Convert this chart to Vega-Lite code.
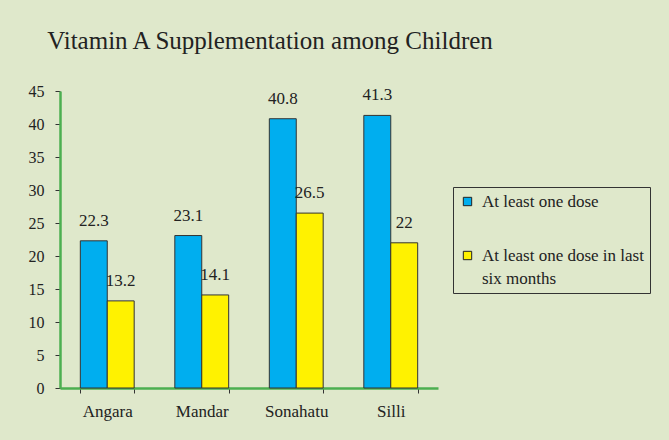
{
  "$schema": "https://vega.github.io/schema/vega-lite/v6.json",
  "width": 378,
  "height": 297,
  "autosize": {"type": "none"},
  "padding": {"left": 60, "top": 91, "right": 231, "bottom": 52},
  "background": "#dfe8cb",
  "config": {"view": {"stroke": null}, "style": {"guide-label": {"lineHeight": 23}}},
  "title": {
    "text": "Vitamin A Supplementation among Children",
    "font": "Liberation Serif",
    "fontSize": 25,
    "fontWeight": "normal",
    "color": "#222222",
    "anchor": "middle",
    "frame": "group",
    "dx": 21,
    "offset": 29
  },
  "data": {
    "values": [
      {"district": "Angara", "series": "At least one dose", "value": 22.3},
      {"district": "Angara", "series": "At least one dose in last six months", "value": 13.2},
      {"district": "Mandar", "series": "At least one dose", "value": 23.1},
      {"district": "Mandar", "series": "At least one dose in last six months", "value": 14.1},
      {"district": "Sonahatu", "series": "At least one dose", "value": 40.8},
      {"district": "Sonahatu", "series": "At least one dose in last six months", "value": 26.5},
      {"district": "Silli", "series": "At least one dose", "value": 41.3},
      {"district": "Silli", "series": "At least one dose in last six months", "value": 22}
    ]
  },
  "encoding": {
    "x": {
      "field": "district",
      "type": "nominal",
      "sort": ["Angara", "Mandar", "Sonahatu", "Silli"],
      "scale": {"paddingInner": 0.43, "paddingOuter": 0.215},
      "axis": {
        "title": null,
        "labelAngle": 0,
        "labelFont": "Liberation Serif",
        "labelFontSize": 17,
        "labelColor": "#222222",
        "labelPadding": 10,
        "tickBand": "extent",
        "tickSize": 5,
        "tickColor": "#333333",
        "domainColor": "#4caf50",
        "domainWidth": 2.5
      }
    },
    "xOffset": {"field": "series", "type": "nominal"},
    "y": {
      "field": "value",
      "type": "quantitative",
      "scale": {"domain": [0, 45], "nice": false},
      "axis": {
        "title": null,
        "values": [0, 5, 10, 15, 20, 25, 30, 35, 40, 45],
        "grid": false,
        "labelFont": "Liberation Serif",
        "labelFontSize": 16,
        "labelColor": "#222222",
        "labelPadding": 11,
        "tickSize": 5,
        "tickColor": "#333333",
        "domainColor": "#4caf50",
        "domainWidth": 2.5
      }
    }
  },
  "layer": [
    {
      "mark": {"type": "bar", "stroke": "#333333", "strokeWidth": 1},
      "encoding": {
        "color": {
          "field": "series",
          "type": "nominal",
          "scale": {"range": ["#00aeef", "#fff200"]},
          "legend": {
            "title": null,
            "orient": "none",
            "legendX": 393,
            "legendY": 96,
            "strokeColor": "#333333",
            "padding": 6,
            "symbolType": "square",
            "symbolSize": 70,
            "symbolStrokeColor": "#222222",
            "symbolStrokeWidth": 1,
            "labelFont": "Liberation Serif",
            "labelFontSize": 17,
            "labelColor": "#222222",
            "labelLimit": 300,
            "labelOffset": 6,
            "rowPadding": 36,
            "labelExpr": "datum.label == 'At least one dose in last six months' ? ['At least one dose in last', 'six months'] : datum.label"
          }
        }
      }
    },
    {
      "mark": {
        "type": "text",
        "baseline": "bottom",
        "dy": -11,
        "font": "Liberation Serif",
        "fontSize": 17,
        "color": "#222222"
      },
      "encoding": {"text": {"field": "value", "type": "quantitative"}}
    }
  ]
}
